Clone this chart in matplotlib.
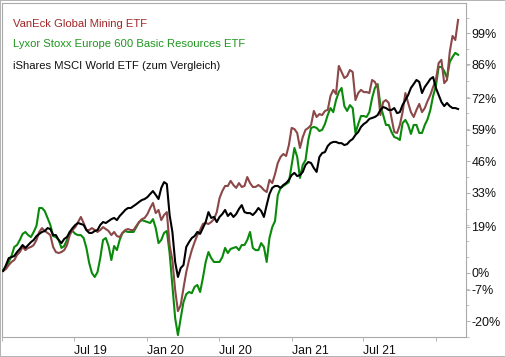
import matplotlib
matplotlib.use('Agg')
import matplotlib.pyplot as plt
from matplotlib.ticker import FixedLocator
import pandas as pd

dates = pd.date_range('2019-01-04', periods=165, freq='7D')

ishares = [
    0.7, 3.1, 6.0, 6.4, 6.9, 8.5, 9.8, 11.4, 10.2, 11.4,
    12.6, 13.5, 15.1, 16.0, 16.8, 17.2, 18.4, 18.0, 15.5, 15.5,
    13.5, 12.2, 13.9, 14.7, 16.8, 18.4, 19.7, 20.5, 20.1, 19.7,
    17.6, 16.4, 16.4, 17.2, 17.6, 19.7, 20.9, 20.5, 21.3, 22.1,
    22.6, 21.7, 23.4, 24.6, 25.9, 26.7, 26.7, 27.5, 28.3, 29.2,
    30.0, 30.4, 31.2, 32.5, 33.7, 32.1, 30.4, 35.0, 37.4, 36.6,
    23.8, 16.8, 4.4, -1.8, 1.9, 3.1, 10.6, 12.6, 14.3, 15.1,
    16.8, 16.0, 18.4, 20.9, 25.0, 22.6, 23.0, 20.9, 23.0, 24.2,
    25.9, 23.4, 24.6, 23.0, 24.2, 26.3, 27.9, 25.0, 24.6, 24.6,
    23.8, 25.0, 26.7, 25.5, 23.0, 27.9, 32.5, 35.0, 35.8, 35.8,
    35.0, 36.2, 37.0, 38.3, 40.3, 41.2, 39.9, 40.3, 41.6, 44.5,
    45.7, 45.3, 43.2, 41.6, 47.8, 49.4, 49.8, 52.3, 53.5, 54.0,
    54.0, 53.5, 53.5, 52.7, 53.1, 54.4, 55.2, 56.9, 58.1, 60.2,
    61.4, 62.2, 63.5, 63.9, 64.3, 65.1, 67.2, 68.4, 68.0, 67.2,
    67.2, 68.0, 65.9, 66.3, 69.3, 71.3, 73.4, 76.3, 77.9, 79.6,
    78.8, 74.2, 76.7, 78.3, 80.0, 80.8, 76.3, 73.4, 70.5, 68.8,
    70.1, 68.8, 68.0, 68.0, 67.6,
]

lyxor = [
    1.1, 1.9, 4.4, 6.9, 10.6, 11.4, 13.5, 16.0, 16.8, 15.5,
    14.7, 16.8, 19.3, 26.7, 26.7, 25.4, 22.6, 19.7, 15.1, 14.7,
    13.5, 10.2, 11.0, 13.5, 16.8, 17.2, 16.0, 15.5, 15.5, 14.3,
    10.2, 4.0, -0.2, -1.8, 0.2, 6.0, 13.5, 14.3, 11.0, 5.2,
    11.0, 9.3, 13.5, 16.4, 17.2, 16.8, 16.8, 16.8, 18.8, 20.9,
    21.7, 21.3, 20.9, 20.5, 22.1, 18.4, 12.2, 13.5, 16.4, 17.2,
    8.1, -5.1, -18.8, -25.8, -18.8, -12.2, -8.9, -8.0, -8.5, -5.9,
    -5.1, -8.0, -2.2, 4.4, 8.5, 6.0, 4.4, 4.4, 4.4, 6.4,
    10.2, 8.1, 9.8, 10.2, 10.6, 9.3, 11.4, 11.4, 13.5, 16.8,
    10.2, 9.3, 9.3, 12.2, 10.6, 4.4, 14.3, 18.8, 21.3, 32.0,
    35.0, 35.8, 36.6, 37.4, 44.5, 51.5, 47.8, 39.1, 44.5, 46.5,
    54.8, 59.8, 60.2, 59.8, 58.5, 59.0, 61.4, 65.1, 68.0, 66.3,
    71.3, 74.6, 76.3, 68.8, 66.8, 69.2, 68.0, 57.7, 61.4, 64.7,
    64.7, 64.3, 66.3, 72.1, 76.3, 77.9, 69.2, 65.1, 61.0, 61.0,
    58.1, 56.0, 55.6, 54.8, 61.8, 63.1, 61.0, 57.3, 61.0, 61.0,
    57.7, 57.7, 61.0, 63.4, 67.2, 73.0, 77.1, 85.0, 85.0, 83.3,
    80.4, 87.0, 89.1, 90.8, 90.0,
]

vaneck = [
    0.7, 1.5, 3.1, 4.4, 5.2, 7.3, 8.5, 10.6, 9.3, 10.2,
    10.6, 11.4, 13.5, 16.8, 18.4, 17.2, 16.4, 15.5, 10.6, 8.5,
    8.1, 8.5, 9.3, 11.4, 15.5, 17.6, 18.8, 20.9, 23.0, 20.5,
    17.6, 17.6, 18.4, 17.6, 16.8, 17.6, 18.8, 18.0, 17.2, 15.5,
    16.8, 15.1, 14.7, 16.4, 17.6, 18.0, 17.6, 17.6, 19.3, 20.9,
    22.1, 22.6, 24.2, 26.7, 28.8, 24.6, 25.9, 21.7, 23.8, 25.0,
    11.4, 5.2, -7.2, -15.9, -13.4, -6.4, 0.2, 5.2, 9.3, 12.6,
    15.5, 17.6, 20.1, 20.5, 20.1, 20.9, 22.1, 25.0, 30.8, 33.7,
    35.8, 35.8, 37.9, 36.2, 35.0, 37.0, 35.4, 35.8, 39.5, 37.0,
    35.4, 35.4, 36.2, 35.4, 34.1, 33.3, 38.3, 37.0, 40.7, 45.3,
    47.8, 49.0, 48.2, 52.7, 59.8, 59.3, 57.7, 51.5, 56.0, 59.0,
    59.8, 61.0, 66.8, 64.3, 65.5, 65.1, 66.8, 67.2, 73.0, 75.5,
    73.8, 85.4, 82.9, 80.4, 81.2, 83.7, 82.9, 71.3, 74.2, 75.5,
    74.6, 74.6, 74.2, 79.6, 78.8, 76.3, 65.1, 70.5, 71.3, 70.1,
    63.9, 58.1, 57.7, 61.0, 66.3, 74.2, 70.1, 66.3, 64.3, 67.2,
    69.7, 66.3, 68.0, 70.9, 73.4, 76.7, 79.6, 86.6, 87.9, 78.3,
    79.6, 91.2, 97.8, 96.1, 104.4,
]

series_names = ['VanEck Global Mining ETF',
                'Lyxor Stoxx Europe 600 Basic Resources ETF',
                'iShares MSCI World ETF (zum Vergleich)']

ytick_values = [-20, -7, 0, 19, 33, 46, 59, 72, 86, 99]
ytick_labels = [f'{v}%' for v in ytick_values]
xtick_dates = ['2019-01-01', '2019-07-01', '2020-01-01', '2020-07-01',
               '2021-01-01', '2021-07-01', '2022-01-01']
xtick_labels = ['', 'Jul 19', 'Jan 20', 'Jul 20', 'Jan 21', 'Jul 21', '']

W, H = 506, 357
fig = plt.figure(figsize=(W / 100, H / 100), dpi=100,
                 linewidth=1.2, edgecolor='#b4b4b4', facecolor='white')
ax = fig.add_axes([2 / W, 1 - 337 / H, 464 / W, 334 / H])

ax.plot(dates, lyxor, color='#0a8a0a', lw=1.5, zorder=3)
ax.plot(dates, vaneck, color='#8c4848', lw=1.5, zorder=4)
ax.plot(dates, ishares, color='#000000', lw=1.5, zorder=5)

ax.set_xlim(pd.Timestamp('2019-01-01'), pd.Timestamp('2022-03-17'))
ax.set_ylim(-26.6, 111.4)

ax.yaxis.tick_right()
ax.yaxis.set_major_locator(FixedLocator(ytick_values))
ax.set_yticklabels(ytick_labels)
ax.set_yticks([-26.6 + 6.6 * i for i in range(21) if -26.6 + 6.6 * i < 111],
              minor=True)
ax.tick_params(axis='y', which='major', length=3, width=0.6, color='#aaaaaa',
               pad=1, labelsize=9, labelcolor='#111111')
ax.tick_params(axis='y', which='minor', length=2, width=0.5, color='#aaaaaa')

xt = [pd.Timestamp(d) for d in xtick_dates]
ax.set_xticks(xt)
ax.set_xticklabels(xtick_labels, ha='left')
ax.tick_params(axis='x', length=3, width=0.6, color='#aaaaaa', pad=3,
               labelsize=8.8, labelcolor='#111111')

for lab in ax.get_xticklabels() + ax.get_yticklabels():
    lab.set_fontfamily('Liberation Sans')

for sp in ax.spines.values():
    sp.set_color('#aaaaaa')
    sp.set_linewidth(0.8)

legend_colors = ['#a02828', '#1e961e', '#111111']
legend_y = [24, 44, 66]
for name, col, yy in zip(series_names, legend_colors, legend_y):
    fig.text(13 / W, 1 - yy / H, name, color=col, fontsize=8.1,
             family='Liberation Sans', va='center', ha='left')

fig.savefig('out.png', dpi=100)
